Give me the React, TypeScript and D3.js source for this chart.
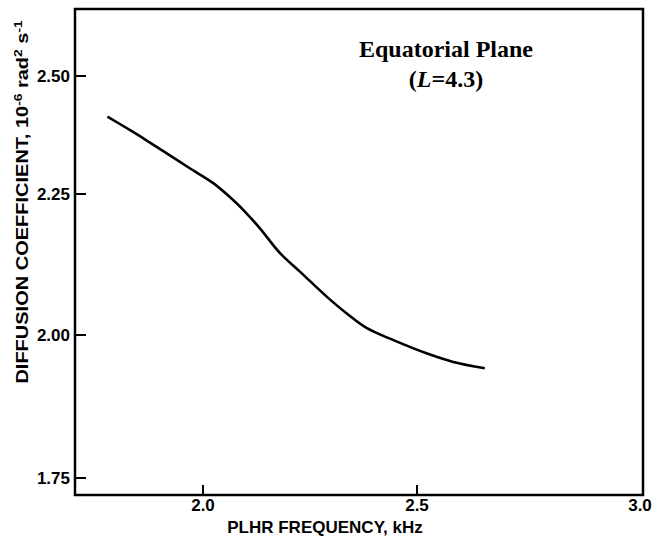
import React from "react";
import * as d3 from "d3";

// PLHR frequency (kHz) and diffusion coefficient (1e-6 rad^2 s^-1)
const freq = [
  1.776, 1.837, 1.86, 1.946, 1.97, 2.024, 2.071, 2.094, 2.133, 2.18, 2.227,
  2.289, 2.336, 2.383, 2.445, 2.521, 2.58, 2.65,
];
const diffusion = [
  2.414, 2.381, 2.368, 2.318, 2.304, 2.273, 2.239, 2.222, 2.189, 2.145, 2.112,
  2.068, 2.038, 2.012, 1.991, 1.968, 1.953, 1.942,
];

const xTicks = [2.0, 2.5, 3.0];
const xTickLabels = ["2.0", "2.5", "3.0"];
const yTicks = [1.75, 2.0, 2.25, 2.5];
const yTickLabels = ["1.75", "2.00", "2.25", "2.50"];

const width = 652;
const height = 537;
const left = 75,
  right = 643,
  top = 9,
  bottom = 495;

const sans = "'Liberation Sans', Arial, Helvetica, sans-serif";
const serif = "'Liberation Serif', 'Times New Roman', serif";

export default function App() {
  // the scanned axes are not quite even, so the scales are piecewise
  const x = d3
    .scaleLinear()
    .domain([1.7, 2.0, 2.5, 3.0])
    .range([left, 203, 417, right]);
  const y = d3
    .scaleLinear()
    .domain([1.72, 1.75, 2.0, 2.25, 2.5, 2.64])
    .range([bottom, 478, 335, 194, 76, top]);

  const points = freq.map((f, i) => [f, diffusion[i]] as [number, number]);
  const line = d3
    .line<[number, number]>()
    .x((d) => x(d[0]))
    .y((d) => y(d[1]))
    .curve(d3.curveCatmullRom.alpha(0.5));

  return (
    <svg
      width={width}
      height={height}
      style={{ position: "absolute", left: 0, top: 0, background: "#fff" }}
    >
      <rect
        x={left}
        y={top}
        width={right - left}
        height={bottom - top}
        fill="none"
        stroke="#000"
        strokeWidth={2.5}
      />

      {yTicks.map((t, i) => (
        <g key={"y" + t}>
          <line x1={left} x2={left + 11} y1={y(t)} y2={y(t)} stroke="#000" strokeWidth={2} />
          <text
            x={70}
            y={y(t)}
            dy="0.36em"
            textAnchor="end"
            fontFamily={sans}
            fontWeight="bold"
            fontSize={17}
          >
            {yTickLabels[i]}
          </text>
        </g>
      ))}

      {xTicks.map((t, i) => (
        <g key={"x" + t}>
          {t < 3 && (
            <line x1={x(t)} x2={x(t)} y1={bottom} y2={bottom - 10} stroke="#000" strokeWidth={2} />
          )}
          <text
            x={t < 3 ? x(t) : x(t) - 3}
            y={511}
            textAnchor="middle"
            fontFamily={sans}
            fontWeight="bold"
            fontSize={17}
          >
            {xTickLabels[i]}
          </text>
        </g>
      ))}

      <path d={line(points) || ""} fill="none" stroke="#000" strokeWidth={2.6} />

      <text
        x={325}
        y={533}
        textAnchor="middle"
        fontFamily={sans}
        fontWeight="bold"
        fontSize={17}
      >
        PLHR FREQUENCY, kHz
      </text>

      <text
        transform="translate(28,202) rotate(-90) scale(1.25,1)"
        textAnchor="middle"
        fontFamily={sans}
        fontWeight="bold"
        fontSize={16}
      >
        DIFFUSION COEFFICIENT, 10
        <tspan dy={-6} fontSize={11}>-6</tspan>
        <tspan dy={6}> rad</tspan>
        <tspan dy={-6} fontSize={11}>2</tspan>
        <tspan dy={6}> s</tspan>
        <tspan dy={-6} fontSize={11}>-1</tspan>
      </text>

      <text x={446} y={57} textAnchor="middle" fontFamily={serif} fontWeight="bold" fontSize={24}>
        Equatorial Plane
      </text>
      <text x={446} y={87} textAnchor="middle" fontFamily={serif} fontWeight="bold" fontSize={24}>
        (<tspan fontStyle="italic">L</tspan>=4.3)
      </text>
    </svg>
  );
}
